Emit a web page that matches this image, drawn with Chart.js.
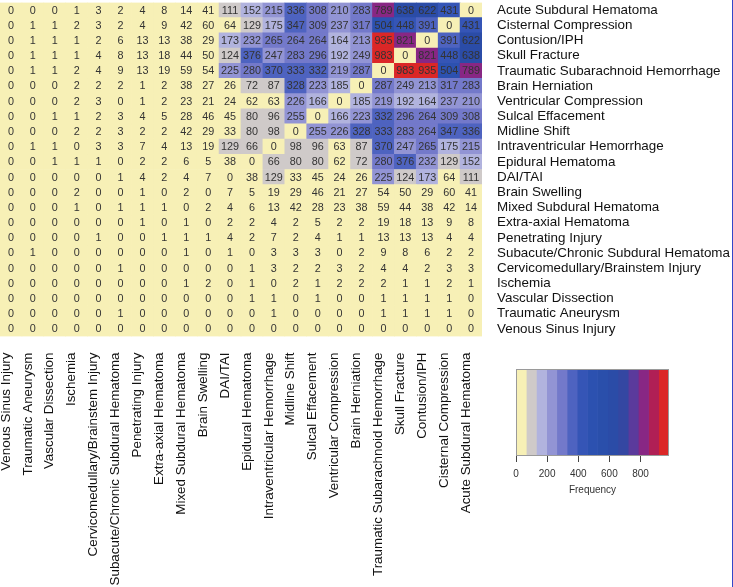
<!DOCTYPE html>
<html><head><meta charset="utf-8">
<script src="https://cdn.jsdelivr.net/npm/chart.js@4.4.0/dist/chart.umd.min.js"></script>
<style>
html,body{margin:0;padding:0;background:#fff;width:733px;height:587px;overflow:hidden;}
#main{position:absolute;left:0;top:0;width:733px;height:587px;}
#leg{position:absolute;left:500px;top:355px;width:233px;height:155px;}
#edge{position:absolute;left:732px;top:0;width:1px;height:587px;background:#3446c8;}
</style></head><body>
<canvas id="main" width="733" height="587"></canvas>
<canvas id="leg" width="233" height="155"></canvas>
<div id="edge"></div>
<script>
// Row categories (top to bottom)
const rowLabels = ["Acute Subdural Hematoma","Cisternal Compression","Contusion/IPH","Skull Fracture","Traumatic Subarachnoid Hemorrhage","Brain Herniation","Ventricular Compression","Sulcal Effacement","Midline Shift","Intraventricular Hemorrhage","Epidural Hematoma","DAI/TAI","Brain Swelling","Mixed Subdural Hematoma","Extra-axial Hematoma","Penetrating Injury","Subacute/Chronic Subdural Hematoma","Cervicomedullary/Brainstem Injury","Ischemia","Vascular Dissection","Traumatic Aneurysm","Venous Sinus Injury"];
// Column categories (left to right)
const colLabels = ["Venous Sinus Injury","Traumatic Aneurysm","Vascular Dissection","Ischemia","Cervicomedullary/Brainstem Injury","Subacute/Chronic Subdural Hematoma","Penetrating Injury","Extra-axial Hematoma","Mixed Subdural Hematoma","Brain Swelling","DAI/TAI","Epidural Hematoma","Intraventricular Hemorrhage","Midline Shift","Sulcal Effacement","Ventricular Compression","Brain Herniation","Traumatic Subarachnoid Hemorrhage","Skull Fracture","Contusion/IPH","Cisternal Compression","Acute Subdural Hematoma"];

// Co-occurrence counts, one array per row
const acuteSubdural   = [0,0,0,1,3,2,4,8,14,41,111,152,215,336,308,210,283,789,638,622,431,0];
const cisternal       = [0,1,1,2,3,2,4,9,42,60,64,129,175,347,309,237,317,504,448,391,0,431];
const contusion       = [0,1,1,1,2,6,13,13,38,29,173,232,265,264,264,164,213,935,821,0,391,622];
const skullFracture   = [0,1,1,1,4,8,13,18,44,50,124,376,247,283,296,192,249,983,0,821,448,638];
const tSAH            = [0,1,1,2,4,9,13,19,59,54,225,280,370,333,332,219,287,0,983,935,504,789];
const herniation      = [0,0,0,2,2,2,1,2,38,27,26,72,87,328,223,185,0,287,249,213,317,283];
const ventricular     = [0,0,0,2,3,0,1,2,23,21,24,62,63,226,166,0,185,219,192,164,237,210];
const sulcal          = [0,0,1,1,2,3,4,5,28,46,45,80,96,255,0,166,223,332,296,264,309,308];
const midline         = [0,0,0,2,2,3,2,2,42,29,33,80,98,0,255,226,328,333,283,264,347,336];
const ivh             = [0,1,1,0,3,3,7,4,13,19,129,66,0,98,96,63,87,370,247,265,175,215];
const epidural        = [0,0,1,1,1,0,2,2,6,5,38,0,66,80,80,62,72,280,376,232,129,152];
const daiTai          = [0,0,0,0,0,1,4,2,4,7,0,38,129,33,45,24,26,225,124,173,64,111];
const swelling        = [0,0,0,2,0,0,1,0,2,0,7,5,19,29,46,21,27,54,50,29,60,41];
const mixedSubdural   = [0,0,0,1,0,1,1,1,0,2,4,6,13,42,28,23,38,59,44,38,42,14];
const extraAxial      = [0,0,0,0,0,0,1,0,1,0,2,2,4,2,5,2,2,19,18,13,9,8];
const penetrating     = [0,0,0,0,1,0,0,1,1,1,4,2,7,2,4,1,1,13,13,13,4,4];
const subacuteChronic = [0,1,0,0,0,0,0,0,1,0,1,0,3,3,3,0,2,9,8,6,2,2];
const cervicomed      = [0,0,0,0,0,1,0,0,0,0,0,1,3,2,2,3,2,4,4,2,3,3];
const ischemia        = [0,0,0,0,0,0,0,0,1,2,0,1,0,2,1,2,2,2,1,1,2,1];
const vascular        = [0,0,0,0,0,0,0,0,0,0,0,1,1,0,1,0,0,1,1,1,1,0];
const aneurysm        = [0,0,0,0,0,1,0,0,0,0,0,0,1,0,0,0,0,1,1,1,1,0];
const venousSinus     = [0,0,0,0,0,0,0,0,0,0,0,0,0,0,0,0,0,0,0,0,0,0];

const rows = [acuteSubdural,cisternal,contusion,skullFracture,tSAH,herniation,ventricular,sulcal,midline,ivh,epidural,daiTai,swelling,mixedSubdural,extraAxial,penetrating,subacuteChronic,cervicomed,ischemia,vascular,aneurysm,venousSinus];

// Colour key
const colorBreaks = [0,66,131,197,262,328,393,459,524,590,655,721,786,852,917,983];
const bandColors = ["#f7f0b6","#cfcac9","#b1b3de","#9294d4","#7379ca","#4e63c0","#3555b6","#2c51b0","#2a4fab","#2b4ca7","#3447a2","#5b3a9c","#882784","#b01f55","#db2727"];
const legendTicks = [0,200,400,600,800];

function colorFor(v){
  for (let i = 0; i < bandColors.length; i++) {
    if (v < colorBreaks[i+1]) return bandColors[i];
  }
  return bandColors[bandColors.length-1];
}

const FONT = "'Liberation Sans', Arial, sans-serif";

// One stacked dataset per row; bottom row first
const datasets = [];
for (let d = 0; d < rows.length; d++) {
  const r = rows.length - 1 - d;
  datasets.push({
    label: rowLabels[r],
    data: rows[r].map(() => 1),
    backgroundColor: rows[r].map(colorFor),
    borderWidth: 0,
    barPercentage: 1,
    categoryPercentage: 1,
    rowIndex: r
  });
}

const cellText = {
  id: 'cellText',
  afterDatasetsDraw(chart) {
    const ctx = chart.ctx;
    ctx.save();
    ctx.font = "10.8px " + FONT;
    ctx.fillStyle = "#333";
    ctx.textAlign = "center";
    ctx.textBaseline = "middle";
    chart.data.datasets.forEach((ds, di) => {
      const meta = chart.getDatasetMeta(di);
      const vals = rows[ds.rowIndex];
      meta.data.forEach((el, i) => {
        ctx.fillText(String(vals[i]), el.x, (el.y + el.base) / 2 + 0.5);
      });
    });
    ctx.restore();
  }
};

function zeroPad(s) { s.paddingTop = 0; s.paddingBottom = 0; s.paddingLeft = 0; s.paddingRight = 0; }

new Chart(document.getElementById('main'), {
  type: 'bar',
  data: { labels: colLabels, datasets },
  options: {
    responsive: false,
    animation: false,
    devicePixelRatio: 1,
    layout: { padding: { top: 2.5, left: 0, right: 0, bottom: 0 } },
    plugins: { legend: { display: false }, tooltip: { enabled: false } },
    scales: {
      x: {
        stacked: true,
        offset: true,
        grid: { display: false, drawTicks: false },
        border: { display: false },
        ticks: { autoSkip: false, minRotation: 90, maxRotation: 90, padding: 16, labelOffset: -5, color: '#111', font: { family: FONT, size: 13.4 } },
        afterFit(s) { s.height = 250.5; zeroPad(s); }
      },
      y: {
        stacked: true,
        min: 0, max: 22,
        display: false
      },
      y2: {
        type: 'category',
        labels: rowLabels,
        position: 'right',
        offset: true,
        grid: { display: false, drawTicks: false },
        border: { display: false },
        ticks: { autoSkip: false, padding: 15, color: '#111', font: { family: FONT, size: 13.4 } },
        afterFit(s) { s.width = 251; zeroPad(s); }
      }
    }
  },
  plugins: [cellText]
});

// Colour key chart
const legendDatasets = bandColors.map((c, k) => ({
  data: [[colorBreaks[k], colorBreaks[k+1]]],
  backgroundColor: c,
  borderWidth: 0,
  barPercentage: 1,
  categoryPercentage: 1,
  grouped: false
}));

const outline = {
  id: 'outline',
  afterDatasetsDraw(chart) {
    const a = chart.chartArea, ctx = chart.ctx;
    ctx.save();
    ctx.strokeStyle = '#9a9a9a';
    ctx.lineWidth = 1;
    ctx.strokeRect(Math.round(a.left) + 0.5, Math.round(a.top) + 0.5, Math.round(a.right - a.left) - 1, Math.round(a.bottom - a.top) - 1);
    ctx.restore();
  }
};

new Chart(document.getElementById('leg'), {
  type: 'bar',
  data: { labels: ['Frequency'], datasets: legendDatasets },
  options: {
    indexAxis: 'y',
    responsive: false,
    animation: false,
    devicePixelRatio: 1,
    layout: { padding: { top: 14, left: 16, right: 64, bottom: 0 } },
    plugins: { legend: { display: false }, tooltip: { enabled: false } },
    scales: {
      x: {
        min: colorBreaks[0], max: colorBreaks[colorBreaks.length-1],
        afterBuildTicks(s) { s.ticks = legendTicks.map(v => ({ value: v })); },
        grid: { drawOnChartArea: false, drawTicks: true, tickLength: 6, color: '#444' },
        border: { display: false },
        ticks: { padding: 6, color: '#333', font: { family: FONT, size: 10 } },
        title: { display: true, text: 'Frequency', color: '#333', font: { family: FONT, size: 10 }, padding: { top: 0, bottom: 14 } },
        afterFit(s) { s.height = 54; zeroPad(s); }
      },
      y: { display: false }
    }
  },
  plugins: [outline]
});
</script>
</body></html>
